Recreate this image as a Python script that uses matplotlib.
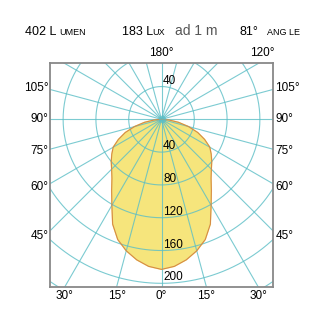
import numpy as np
import matplotlib.pyplot as plt

plt.rcParams['font.family'] = ['Liberation Sans', 'DejaVu Sans']

# photometric curve, half plane (0 = straight down), cd values
angles = [0, 5, 10, 15, 20, 25, 30, 35, 40, 45, 50, 55, 60, 65, 70, 75, 80, 85, 90]
intensity = [183, 180, 174, 166, 156, 141, 121, 106, 94, 86, 80, 74, 68, 58, 47, 34, 21, 9, 0]

ring_values = [40, 80, 120, 160, 200, 240, 280]
ring_labels_up = [40]
ring_labels_down = [40, 80, 120, 160, 200]
spoke_step = 15
side_labels = [105, 90, 75, 60, 45]
bottom_labels = [-30, -15, 0, 15, 30]
top_labels = [0, 120]   # 0 -> "180°" straight up, 120 -> right side

header_lumen = "402"
header_lux = "183"
header_angle = "81°"

GRID = '#5bbec6'
FILL = '#f6e57c'
EDGE = '#d68a45'

fig = plt.figure(figsize=(3.25, 3.25), dpi=100)
ax = fig.add_axes([50 / 325, 38 / 325, 223 / 325, 224 / 325])

xmax = 136
ybot, ytop = -204.5, 68.7
ax.set_xlim(-xmax, xmax)
ax.set_ylim(ybot, ytop)

# both halves of the curve
th = np.radians(np.array([-a for a in angles[::-1]] + angles[1:]))
ii = np.array(intensity[::-1] + intensity[1:])
xs = ii * np.sin(th)
ys = -ii * np.cos(th)
ax.fill(xs, ys, color=FILL, zorder=1)
ax.plot(xs, ys, color=EDGE, lw=0.8, zorder=3)

# grid
for a in range(0, 360, spoke_step):
    t = np.radians(a)
    ax.plot([0, 400 * np.sin(t)], [0, -400 * np.cos(t)], color=GRID, lw=0.8, alpha=0.8, zorder=2)
phi = np.linspace(0, 2 * np.pi, 361)
for r in ring_values:
    ax.plot(r * np.sin(phi), r * np.cos(phi), color=GRID, lw=0.8, alpha=0.8, zorder=2)
ax.scatter([0], [0], s=30, color=GRID, alpha=0.7, zorder=4, linewidths=0)

for r in ring_labels_up:
    ax.text(2, r, str(r), fontsize=8.5, ha='left', va='bottom', zorder=5)
for r in ring_labels_down:
    ax.text(2, -r, str(r), fontsize=8.5, ha='left', va='bottom', zorder=5)

ax.set_xticks([])
ax.set_yticks([])
for s in ax.spines.values():
    s.set_color('#888888')
    s.set_linewidth(1.3)

# angle labels round the frame
xl = 142
for a in side_labels:
    t = np.radians(a)
    y = -xl * np.cos(t) / np.sin(t)
    ax.text(-xmax - 2, y, f"{a}°", fontsize=8.5, ha='right', va='center', clip_on=False)
    ax.text(xmax + 3, y, f"{a}°", fontsize=8.5, ha='left', va='center', clip_on=False)

for a in bottom_labels:
    x = -ybot * np.tan(np.radians(a))
    ax.text(x, ybot - 4, f"{abs(a)}°", fontsize=8.5, ha='center', va='top', clip_on=False)

for a in top_labels:
    t = np.radians(180 - a)
    x = ytop * np.tan(t) if a else 0
    ax.text(x + 4 * (a > 0), ytop + 5, f"{180 - a if a == 0 else a}°", fontsize=8.5,
            ha='center', va='bottom', clip_on=False)

# header
yb = 1 - 35 / 325
fig.text(25 / 325, yb, header_lumen + " L", fontsize=9, va='baseline')
fig.text(59 / 325, yb, "UMEN", fontsize=6.5, va='baseline')
fig.text(122 / 325, yb, header_lux + " L", fontsize=9, va='baseline')
fig.text(152 / 325, yb, "UX", fontsize=6.5, va='baseline')
fig.text(175 / 325, yb, "ad 1 m", fontsize=10, color='#555555', va='baseline')
fig.text(240 / 325, yb, header_angle, fontsize=9, va='baseline')
fig.text(267 / 325, yb, "ANG LE", fontsize=6.5, va='baseline')

fig.savefig('out.png', dpi=100)
